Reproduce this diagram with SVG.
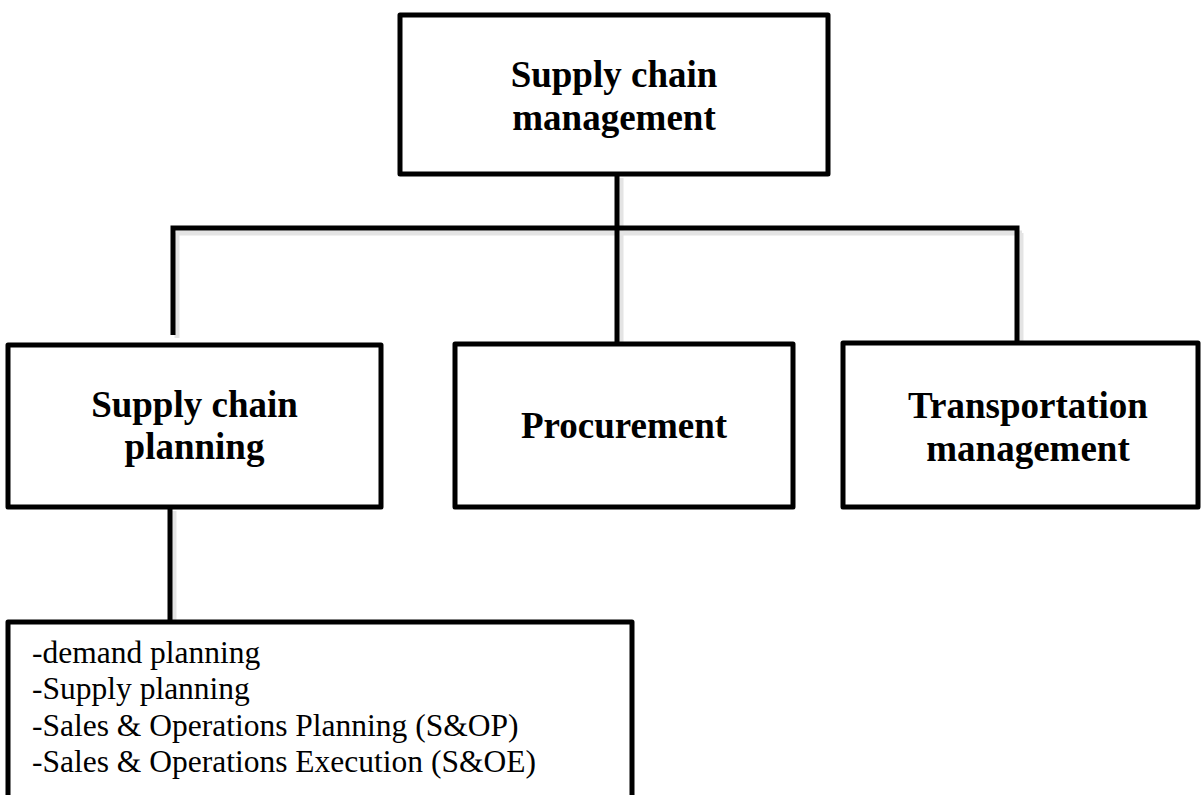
<svg xmlns="http://www.w3.org/2000/svg" width="1203" height="795" viewBox="0 0 1203 795">
  <style>
    .box { fill: #ffffff; stroke: #000000; stroke-width: 5; stroke-linejoin: round; }
    .wire { fill: none; stroke: #000000; stroke-width: 5; stroke-linecap: butt; stroke-linejoin: miter; }
    .shade { fill: none; stroke: #e4e4e4; stroke-width: 5; }
    .head { font-family: "Liberation Serif", "Times New Roman", serif; font-weight: bold; font-size: 37px; fill: #000000; text-anchor: middle; }
    .item { font-family: "Liberation Serif", "Times New Roman", serif; font-size: 31.5px; fill: #000000; }
  </style>

  <rect width="1203" height="795" fill="#ffffff"/>

  <!-- connectors -->
  <g id="connectors">
    <g class="shade">
      <path d="M176 233 H1022"/>
      <path d="M621 178 V347"/>
      <path d="M177 233 V338"/>
      <path d="M1021 233 V347"/>
      <path d="M174 511 V626"/>
    </g>
    <path class="wire" d="M173 335 V228 H1017 V343"/>
    <path class="wire" d="M617 174 V343"/>
    <path class="wire" d="M170 507 V622"/>
  </g>

  <g id="node-scm">
    <rect class="box" x="400" y="15" width="428" height="159"/>
    <text class="head" x="614" y="87">Supply chain</text>
    <text class="head" x="614" y="130">management</text>
  </g>

  <g id="node-planning">
    <rect class="box" x="8" y="345" width="373" height="162"/>
    <text class="head" x="194.5" y="417">Supply chain</text>
    <text class="head" x="194.5" y="459">planning</text>
  </g>

  <g id="node-procurement">
    <rect class="box" x="455" y="344" width="338" height="163"/>
    <text class="head" x="624" y="438">Procurement</text>
  </g>

  <g id="node-transport">
    <rect class="box" x="843" y="343" width="355" height="164"/>
    <text class="head" x="1028" y="418">Transportation</text>
    <text class="head" x="1028" y="461">management</text>
  </g>

  <g id="node-planning-items">
    <rect class="box" x="8" y="622" width="624" height="190"/>
    <text class="item" x="32" y="663">-demand planning</text>
    <text class="item" x="32" y="699">-Supply planning</text>
    <text class="item" x="32" y="736">-Sales &amp; Operations Planning (S&amp;OP)</text>
    <text class="item" x="32" y="772">-Sales &amp; Operations Execution (S&amp;OE)</text>
  </g>
</svg>
